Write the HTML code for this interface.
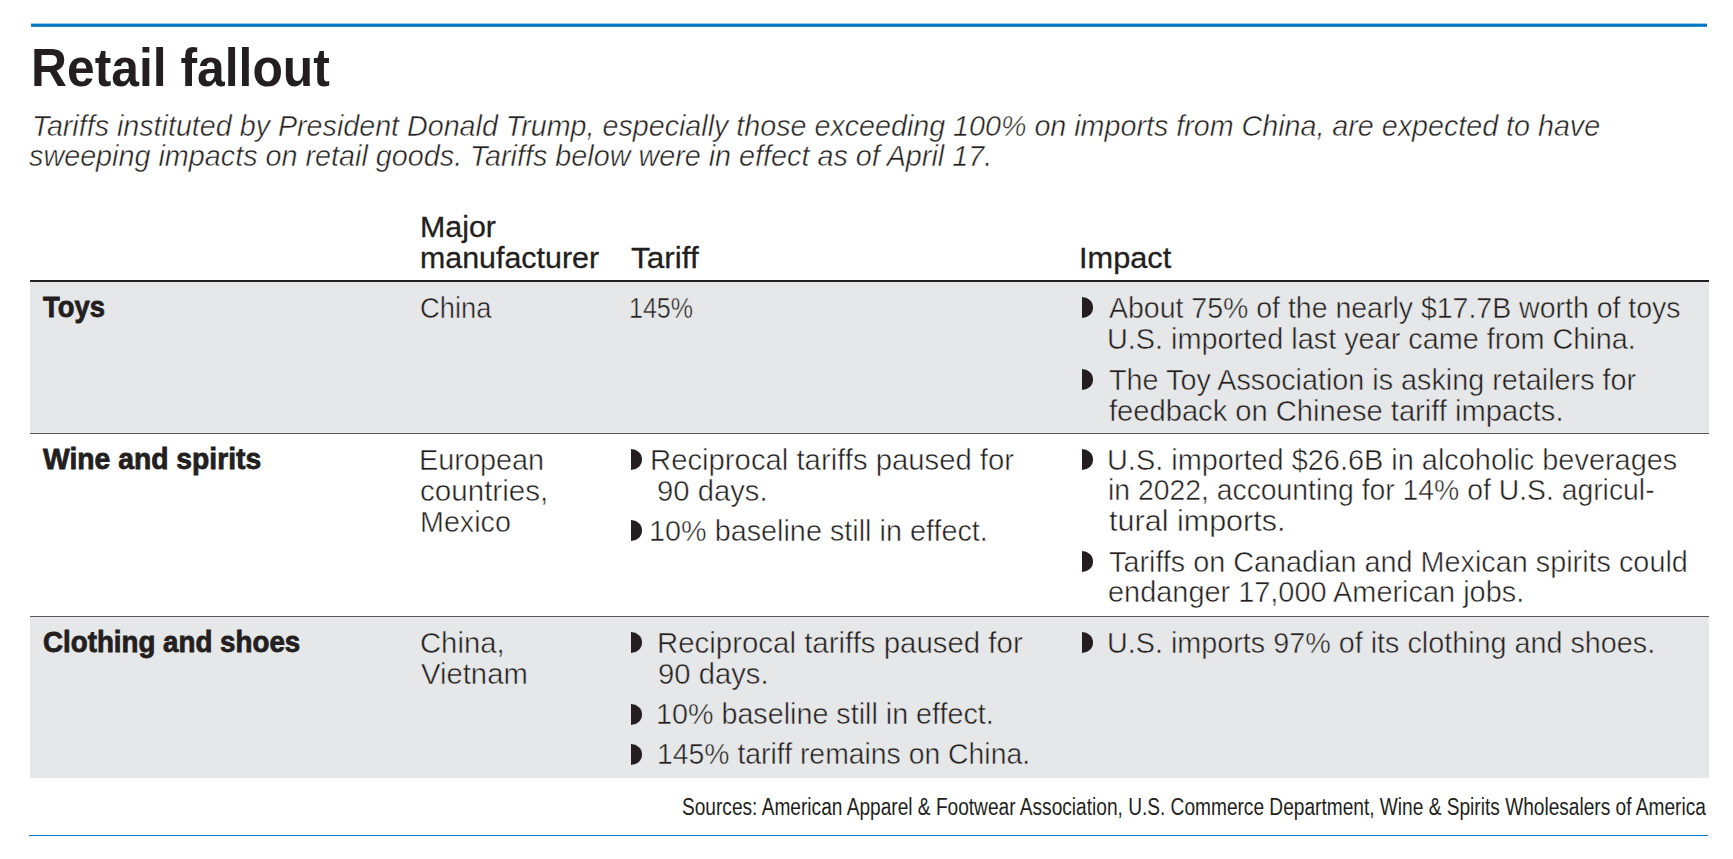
<!DOCTYPE html>
<html><head><meta charset="utf-8"><title>Retail fallout</title>
<style>
html,body{margin:0;padding:0;background:#fff;}
body{width:1733px;height:859px;position:relative;overflow:hidden;font-family:"Liberation Sans",sans-serif;color:#231f20;}
.t{position:absolute;white-space:nowrap;transform-origin:0 0;}
.r{position:absolute;}
.b{position:absolute;background:#231f20;border-radius:0 100% 100% 0/0 50% 50% 0;}
.hdr{font-weight:normal;-webkit-text-stroke:0.3px #231f20;}
.bd{font-weight:bold;-webkit-text-stroke:0.8px #231f20;}
.ew{-webkit-text-stroke:0.5px #fff;}
.eg{-webkit-text-stroke:0.5px #e6e7e8;}
</style></head><body>

<div class="r" style="left:31px;top:23px;width:1676px;height:1px;background:rgba(5,120,194,0.4)"></div>
<div class="r" style="left:31px;top:24px;width:1676px;height:2px;background:#0578c2"></div>
<div class="r" style="left:31px;top:26px;width:1676px;height:1px;background:rgba(5,120,194,0.85)"></div>
<div class="r" style="left:30px;top:282px;width:1679px;height:151px;background:#e6e7e8"></div>
<div class="r" style="left:30px;top:617px;width:1679px;height:161px;background:#e6e7e8"></div>
<div class="r" style="left:30px;top:280px;width:1679px;height:2px;background:#231f20"></div>
<div class="r" style="left:30px;top:433px;width:1679px;height:1px;background:#5b5859"></div>
<div class="r" style="left:30px;top:616px;width:1679px;height:1px;background:#5b5859"></div>
<div class="r" style="left:29px;top:835px;width:1679px;height:1px;background:#0578c2"></div>
<div class="b" style="left:1081.8px;top:297.2px;width:11.3px;height:21.0px"></div>
<div class="b" style="left:1081.8px;top:368.9px;width:11.3px;height:21.0px"></div>
<div class="b" style="left:630.9px;top:449.4px;width:11.1px;height:21.0px"></div>
<div class="b" style="left:630.9px;top:520.2px;width:11.1px;height:21.0px"></div>
<div class="b" style="left:1081.8px;top:448.9px;width:11.3px;height:21.0px"></div>
<div class="b" style="left:1081.8px;top:551.1px;width:11.3px;height:21.0px"></div>
<div class="b" style="left:630.9px;top:632.3px;width:11.1px;height:21.0px"></div>
<div class="b" style="left:630.9px;top:703.6px;width:11.1px;height:21.0px"></div>
<div class="b" style="left:630.9px;top:743.7px;width:11.1px;height:21.0px"></div>
<div class="b" style="left:1081.8px;top:632.3px;width:11.3px;height:21.0px"></div>
<div class="t" id="l0" style="left:31.45px;top:40.54px;font-size:53.30px;line-height:53.30px;font-weight:bold;transform:scaleX(0.9345);">Retail fallout</div>
<div class="t ew" id="l1" style="left:31.73px;top:110.61px;font-size:30.30px;line-height:30.30px;font-style:italic;transform:scaleX(0.9463);">Tariffs instituted by President Donald Trump, especially those exceeding 100% on imports from China, are expected to have</div>
<div class="t ew" id="l2" style="left:29.25px;top:140.80px;font-size:30.30px;line-height:30.30px;font-style:italic;transform:scaleX(0.9490);">sweeping impacts on retail goods. Tariffs below were in effect as of April 17.</div>
<div class="t hdr" id="l3" style="left:420.01px;top:212.30px;font-size:29.60px;line-height:29.60px;transform:scaleX(1.0267);">Major</div>
<div class="t hdr" id="l4" style="left:419.97px;top:242.66px;font-size:29.60px;line-height:29.60px;transform:scaleX(1.0268);">manufacturer</div>
<div class="t hdr" id="l5" style="left:631.04px;top:242.57px;font-size:29.60px;line-height:29.60px;transform:scaleX(1.0645);">Tariff</div>
<div class="t hdr" id="l6" style="left:1079.20px;top:242.87px;font-size:29.60px;line-height:29.60px;transform:scaleX(1.0384);">Impact</div>
<div class="t bd" id="l7" style="left:43.00px;top:292.37px;font-size:29.60px;line-height:29.60px;transform:scaleX(0.9260);">Toys</div>
<div class="t bd" id="l8" style="left:43.00px;top:443.99px;font-size:29.60px;line-height:29.60px;transform:scaleX(0.9555);">Wine and spirits</div>
<div class="t bd" id="l9" style="left:42.70px;top:627.06px;font-size:29.60px;line-height:29.60px;transform:scaleX(0.9368);">Clothing and shoes</div>
<div class="t eg" id="l10" style="left:419.64px;top:292.55px;font-size:30.30px;line-height:30.30px;transform:scaleX(0.9035);">China</div>
<div class="t eg" id="l11" style="left:629.48px;top:292.55px;font-size:30.30px;line-height:30.30px;transform:scaleX(0.8265);">145%</div>
<div class="t eg" id="l12" style="left:1109.07px;top:292.83px;font-size:30.30px;line-height:30.30px;transform:scaleX(0.9401);">About 75% of the nearly $17.7B worth of toys</div>
<div class="t eg" id="l13" style="left:1107.13px;top:324.25px;font-size:30.30px;line-height:30.30px;transform:scaleX(0.9517);">U.S. imported last year came from China.</div>
<div class="t eg" id="l14" style="left:1109.10px;top:364.66px;font-size:30.30px;line-height:30.30px;transform:scaleX(0.9495);">The Toy Association is asking retailers for</div>
<div class="t eg" id="l15" style="left:1109.07px;top:396.49px;font-size:30.30px;line-height:30.30px;transform:scaleX(0.9616);">feedback on Chinese tariff impacts.</div>
<div class="t ew" id="l16" style="left:419.15px;top:445.14px;font-size:30.30px;line-height:30.30px;transform:scaleX(0.9518);">European</div>
<div class="t ew" id="l17" style="left:419.52px;top:476.45px;font-size:30.30px;line-height:30.30px;transform:scaleX(0.9764);">countries,</div>
<div class="t ew" id="l18" style="left:419.77px;top:506.55px;font-size:30.30px;line-height:30.30px;transform:scaleX(0.9472);">Mexico</div>
<div class="t ew" id="l19" style="left:650.01px;top:444.61px;font-size:30.30px;line-height:30.30px;transform:scaleX(0.9665);">Reciprocal tariffs paused for</div>
<div class="t ew" id="l20" style="left:657.31px;top:476.32px;font-size:30.30px;line-height:30.30px;transform:scaleX(0.9653);">90 days.</div>
<div class="t ew" id="l21" style="left:648.95px;top:515.95px;font-size:30.30px;line-height:30.30px;transform:scaleX(0.9504);">10% baseline still in effect.</div>
<div class="t ew" id="l22" style="left:1107.13px;top:444.62px;font-size:30.30px;line-height:30.30px;transform:scaleX(0.9538);">U.S. imported $26.6B in alcoholic beverages</div>
<div class="t ew" id="l23" style="left:1108.16px;top:475.42px;font-size:30.30px;line-height:30.30px;transform:scaleX(0.9353);">in 2022, accounting for 14% of U.S. agricul-</div>
<div class="t ew" id="l24" style="left:1109.04px;top:505.60px;font-size:30.30px;line-height:30.30px;transform:scaleX(1.0081);">tural imports.</div>
<div class="t ew" id="l25" style="left:1109.10px;top:546.51px;font-size:30.30px;line-height:30.30px;transform:scaleX(0.9503);">Tariffs on Canadian and Mexican spirits could</div>
<div class="t ew" id="l26" style="left:1108.11px;top:577.19px;font-size:30.30px;line-height:30.30px;transform:scaleX(0.9541);">endanger 17,000 American jobs.</div>
<div class="t eg" id="l27" style="left:419.55px;top:628.21px;font-size:30.30px;line-height:30.30px;transform:scaleX(0.9653);">China,</div>
<div class="t eg" id="l28" style="left:420.50px;top:658.55px;font-size:30.30px;line-height:30.30px;transform:scaleX(0.9653);">Vietnam</div>
<div class="t eg" id="l29" style="left:656.70px;top:628.21px;font-size:30.30px;line-height:30.30px;transform:scaleX(0.9709);">Reciprocal tariffs paused for</div>
<div class="t eg" id="l30" style="left:657.67px;top:659.32px;font-size:30.30px;line-height:30.30px;transform:scaleX(0.9653);">90 days.</div>
<div class="t eg" id="l31" style="left:655.98px;top:698.55px;font-size:30.30px;line-height:30.30px;transform:scaleX(0.9475);">10% baseline still in effect.</div>
<div class="t eg" id="l32" style="left:657.11px;top:738.95px;font-size:30.30px;line-height:30.30px;transform:scaleX(0.9360);">145% tariff remains on China.</div>
<div class="t eg" id="l33" style="left:1107.16px;top:628.25px;font-size:30.30px;line-height:30.30px;transform:scaleX(0.9491);">U.S. imports 97% of its clothing and shoes.</div>
<div class="t" id="l34" style="left:682.11px;top:796.45px;font-size:23.30px;line-height:23.30px;-webkit-text-stroke:0px #231f20;transform:scaleX(0.8203);">Sources: American Apparel &amp; Footwear Association, U.S. Commerce Department, Wine &amp; Spirits Wholesalers of America</div>
</body></html>
